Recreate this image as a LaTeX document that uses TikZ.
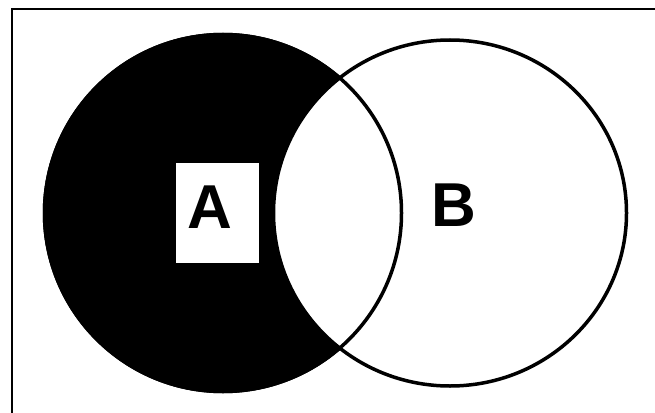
\documentclass[tikz,border=0pt]{standalone}
\usepackage{fontspec}
\setmainfont{Liberation Sans}
\usetikzlibrary{shapes.geometric}
\begin{document}
\begin{tikzpicture}[x=1pt,y=-1pt,
  setA/.style={circle,inner sep=0pt,minimum size=357pt,draw=black,fill=black,line width=3.5pt},
  setB/.style={ellipse,inner sep=0pt,minimum width=353pt,minimum height=346pt,draw=black,fill=white,line width=3.5pt},
  lbl/.style={font=\fontsize{62}{62}\selectfont\bfseries,inner sep=0pt},
  lblbox/.style={fill=white,inner sep=0pt,minimum width=83pt,minimum height=100pt}]
\useasboundingbox (0,0) rectangle (655,412);
\clip (0,0) rectangle (655,412);
\fill[white] (0,0) rectangle (655,412);
\draw[line width=2pt] (12,9) rectangle (700,450);
\node[setA] (A) at (223,213) {};
\node[setB] (B) at (450,213) {};
\draw[line width=3.5pt] (A.center) circle[radius=178.5pt];
\node[lblbox] (boxA) at (217.5,213) {};
\node[lbl] (la) at (210,207) {A};
\node[lbl] (lb) at (454,205) {B};
\end{tikzpicture}
\end{document}
